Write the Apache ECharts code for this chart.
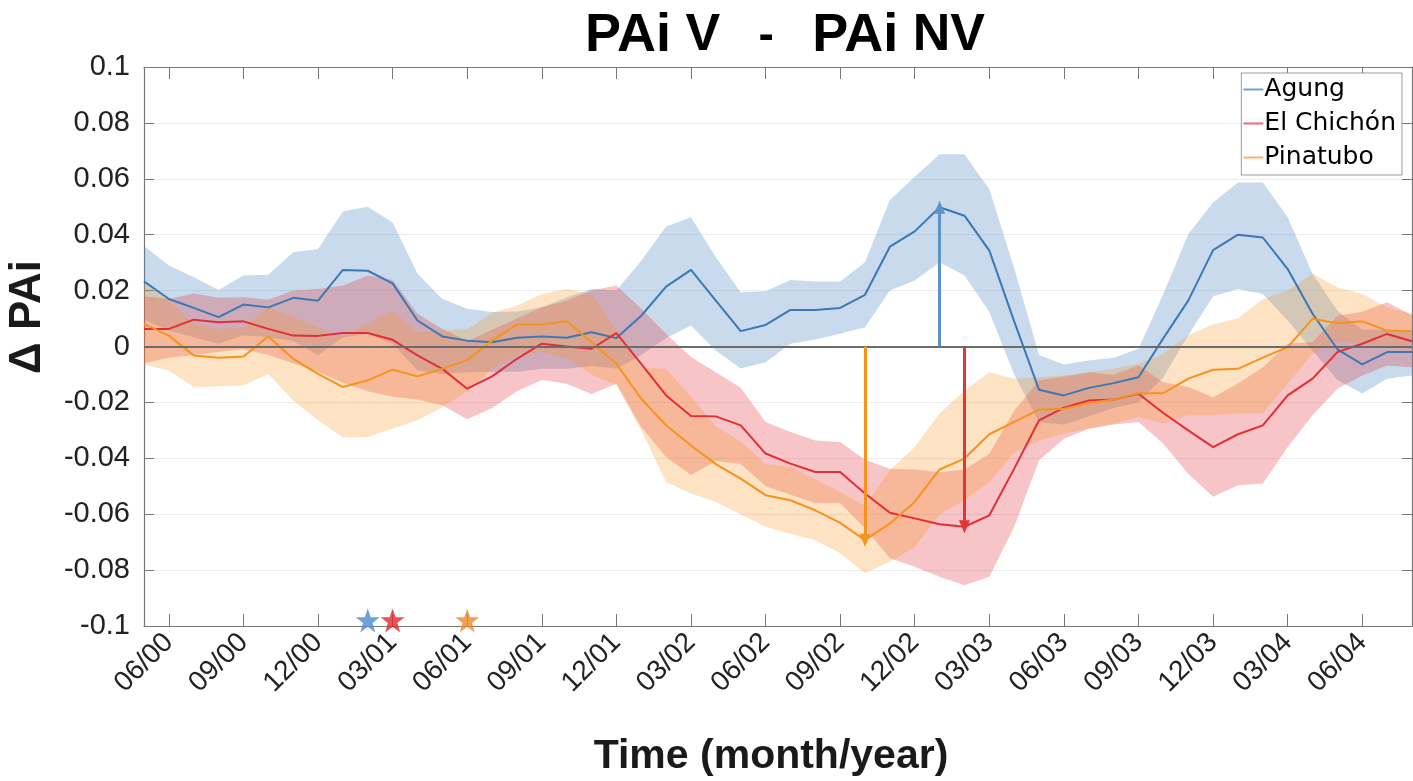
<!DOCTYPE html>
<html><head><meta charset="utf-8">
<script src="https://cdn.jsdelivr.net/npm/echarts@6/dist/echarts.min.js"></script>
<style>html,body{margin:0;padding:0;background:#fff}#c{width:1413px;height:781px}</style>
</head><body><div id="c"></div>
<script>
// Months (May 2000 .. Aug 2004), label format MM/YY
const months = ['05/00','06/00','07/00','08/00','09/00','10/00','11/00','12/00',
 '01/01','02/01','03/01','04/01','05/01','06/01','07/01','08/01','09/01','10/01','11/01','12/01',
 '01/02','02/02','03/02','04/02','05/02','06/02','07/02','08/02','09/02','10/02','11/02','12/02',
 '01/03','02/03','03/03','04/03','05/03','06/03','07/03','08/03','09/03','10/03','11/03','12/03',
 '01/04','02/04','03/04','04/04','05/04','06/04','07/04','08/04'];

const agungMean = [0.0233,0.017,0.0138,0.0105,0.015,0.014,0.0174,0.0164,0.0274,0.0271,0.0226,0.0093,0.0036,0.0021,0.0015,0.0031,0.0036,0.0031,0.0051,0.003,
 0.011,0.0214,0.0274,0.0164,0.0055,0.0077,0.0131,0.0131,0.0138,0.0185,0.0357,0.0412,0.0498,0.0468,0.0343,0.009,-0.0155,-0.0175,-0.0148,-0.0131,
 -0.011,0.003,0.0164,0.0345,0.040,0.039,0.0277,0.0117,-0.001,-0.0064,-0.002,-0.002];
const agungUpper = [0.036,0.029,0.0248,0.0202,0.0254,0.0257,0.0337,0.0349,0.0483,0.050,0.0444,0.026,0.017,0.0135,0.0123,0.0125,0.014,0.0175,0.0206,0.020,
 0.0307,0.0429,0.0462,0.0319,0.0194,0.0198,0.0238,0.0233,0.0233,0.0301,0.0524,0.0607,0.0688,0.0688,0.0563,0.028,-0.003,-0.0064,-0.005,-0.004,
 -0.0008,0.0188,0.0402,0.0515,0.0587,0.0587,0.0462,0.026,0.0128,0.006,0.006,0.005];
const agungLower = [0.0096,0.0057,0.0033,0.001,0.004,0.0033,0.002,-0.0032,0.0033,0.0045,0.001,-0.0086,-0.0098,-0.0092,-0.009,-0.009,-0.008,-0.008,-0.007,-0.008,
 -0.003,0.003,0.0075,-0.0014,-0.0079,-0.0056,0.001,0.0025,0.0046,0.0069,0.020,0.0236,0.0301,0.0254,0.0123,-0.01,-0.027,-0.028,-0.025,-0.022,
 -0.02,-0.011,0.004,0.018,0.0206,0.0188,0.0093,-0.0014,-0.012,-0.0168,-0.0115,-0.0104];

const chichonMean = [0.0063,0.0063,0.0096,0.0087,0.009,0.0063,0.0039,0.0038,0.0048,0.0048,0.0024,-0.0032,-0.008,-0.0151,-0.0107,-0.0044,0.001,0.0,-0.0008,0.0048,
 -0.0062,-0.0175,-0.0249,-0.025,-0.0282,-0.0383,-0.0419,-0.0449,-0.0449,-0.0526,-0.0595,-0.0615,-0.0636,-0.0645,-0.0604,-0.0437,-0.0264,-0.0219,-0.0193,-0.019,
 -0.0169,-0.0238,-0.030,-0.036,-0.0314,-0.0282,-0.0175,-0.0115,-0.002,0.001,0.0045,0.0019];
const chichonUpper = [0.018,0.017,0.019,0.0174,0.0176,0.0167,0.020,0.0206,0.0218,0.0254,0.0238,0.0117,0.0063,0.002,0.006,0.010,0.014,0.0164,0.020,0.0218,
 0.0135,0.0045,-0.0038,-0.0092,-0.0148,-0.027,-0.0306,-0.0336,-0.0342,-0.0405,-0.0437,-0.044,-0.045,-0.044,-0.0384,-0.0229,-0.0121,-0.0108,-0.0092,-0.0101,
 -0.0068,-0.0128,-0.0145,-0.0182,-0.0132,-0.0074,0.001,0.0016,0.011,0.0124,0.0158,0.0112];
const chichonLower = [-0.006,-0.004,-0.003,-0.002,-0.001,-0.003,-0.006,-0.009,-0.013,-0.016,-0.018,-0.019,-0.021,-0.026,-0.022,-0.016,-0.012,-0.0133,-0.017,-0.0133,
 -0.0288,-0.0395,-0.046,-0.041,-0.042,-0.050,-0.053,-0.056,-0.056,-0.065,-0.0758,-0.0788,-0.0824,-0.0854,-0.0824,-0.0645,-0.0407,-0.033,-0.0294,-0.0279,
 -0.027,-0.0348,-0.0455,-0.0538,-0.0496,-0.049,-0.036,-0.0246,-0.0151,-0.0104,-0.0068,-0.0074];

const pinatuboMean = [0.0081,0.0039,-0.0032,-0.004,-0.0036,0.0036,-0.0044,-0.0098,-0.0145,-0.0121,-0.0083,-0.0107,-0.008,-0.0048,0.0021,0.0079,0.0079,0.009,0.0015,-0.0062,
 -0.0187,-0.0282,-0.0354,-0.0421,-0.0473,-0.0532,-0.055,-0.0586,-0.0631,-0.0693,-0.0633,-0.0556,-0.044,-0.0401,-0.0314,-0.027,-0.0226,-0.0223,-0.0202,-0.019,
 -0.0167,-0.0167,-0.0115,-0.0083,-0.008,-0.004,-0.0002,0.0099,0.0083,0.009,0.0057,0.0055];
const pinatuboUpper = [0.0226,0.0164,0.0081,0.0063,0.0067,0.014,0.0105,0.0068,0.0036,0.0082,0.0128,0.005,0.0057,0.0062,0.012,0.0146,0.0188,0.0206,0.0188,0.006,
 -0.0077,-0.008,-0.018,-0.0286,-0.034,-0.042,-0.043,-0.0476,-0.052,-0.057,-0.0443,-0.036,-0.024,-0.0157,-0.0092,-0.0115,-0.011,-0.0104,-0.0092,-0.008,
 -0.0062,-0.0026,0.004,0.008,0.010,0.017,0.020,0.026,0.0212,0.0188,0.014,0.0117];
const pinatuboLower = [-0.0064,-0.0086,-0.0145,-0.0143,-0.0139,-0.0098,-0.0193,-0.0264,-0.0326,-0.0324,-0.0294,-0.0264,-0.0217,-0.016,-0.008,-0.003,-0.002,-0.004,-0.010,-0.0139,
 -0.030,-0.0485,-0.0526,-0.0556,-0.060,-0.0645,-0.067,-0.0693,-0.074,-0.081,-0.077,-0.0717,-0.060,-0.055,-0.0485,-0.038,-0.0336,-0.0312,-0.0294,-0.0276,
 -0.0252,-0.0276,-0.0246,-0.0246,-0.024,-0.024,-0.0133,-0.0026,0.0021,0.001,-0.0002,-0.0008];

const volcanoes = ['Agung','El Chichón','Pinatubo'];
const eruptionMonths = ['02/01','03/01','06/01'];   // stars on the time axis
const peakMonths = ['01/03','02/03','10/02'];       // arrows: Agung, El Chichón, Pinatubo
const yTicks = [-0.1,-0.08,-0.06,-0.04,-0.02,0,0.02,0.04,0.06,0.08,0.1];

const lineColors = ['#3b78b4','#e22f36','#f7931d'];
const bandColors = ['rgba(74,134,192,0.30)','rgba(228,45,55,0.28)','rgba(248,150,40,0.28)'];
const legendColors = ['#6fa3d6','#ee6a72','#f9b46a'];
const starColors = ['#4b8bcb','#e3262c','#f0862a'];
const arrowColors = ['#5b93c9','#e3343a','#f7931d'];

const means = [agungMean, chichonMean, pinatuboMean];
const uppers = [agungUpper, chichonUpper, pinatuboUpper];
const lowers = [agungLower, chichonLower, pinatuboLower];

const FONT = 'Liberation Sans, Arial, Helvetica, sans-serif';
const tickShow = (i) => (i - 1) % 3 === 0;

const series = [];
volcanoes.forEach((name, k) => {
  const low = lowers[k];
  const diff = uppers[k].map((u, i) => +(u - low[i]).toFixed(5));
  series.push({
    name: name + ' band low', type: 'line', stack: 'band' + k, stackStrategy: 'all',
    data: low, symbol: 'none', lineStyle: { opacity: 0 }, silent: true, z: 2
  });
  series.push({
    name: name + ' band', type: 'line', stack: 'band' + k, stackStrategy: 'all',
    data: diff, symbol: 'none', lineStyle: { opacity: 0 }, silent: true, z: 2,
    areaStyle: { color: bandColors[k], opacity: 1 }
  });
  series.push({
    name: name, type: 'line', data: means[k], symbol: 'none', z: 2,
    lineStyle: { color: lineColors[k], width: 2 }, itemStyle: { color: legendColors[k] }
  });
});

series.push({
  name: 'eruptions', type: 'scatter', clip: false, z: 6,
  symbol: 'path://M12,0 L14.9,8.3 L23.6,8.3 L16.6,13.6 L19.2,22.4 L12,17.2 L4.8,22.4 L7.4,13.6 L0.4,8.3 L9.1,8.3 Z',
  symbolSize: 24,
  data: eruptionMonths.map((m, k) => ({ value: [m, -0.098], itemStyle: { color: starColors[k] } }))
});

const arrowData = peakMonths.map((m, k) => {
  const idx = months.indexOf(m);
  return [
    { coord: [m, 0], symbol: 'none', lineStyle: { color: arrowColors[k], width: 3, type: 'solid' } },
    { coord: [m, means[k][idx]], symbol: 'triangle', symbolSize: [11, 13] }
  ];
});

series.push({
  name: 'overlay', type: 'line', data: months.map(() => null), z: 5, silent: true,
  markLine: {
    silent: true, animation: false, label: { show: false },
    symbol: ['none', 'none'],
    data: [
      [{ coord: [months[0], 0], lineStyle: { color: '#6b6b6b', width: 1.8, type: 'solid' } },
       { coord: [months[months.length - 1], 0] }]
    ].concat(arrowData)
  }
});

const chart = echarts.init(document.getElementById('c'), null, { renderer: 'canvas' });
chart.setOption({
  animation: false,
  backgroundColor: '#fff',
  title: {
    left: 780, top: 4, textAlign: 'center',
    text: '{a|PAi}{b| V}{c|   -   }{a|PAi}{b| NV}',
    textStyle: {
      rich: {
        a: { fontFamily: FONT, fontWeight: 'bold', fontSize: 54, color: '#000' },
        b: { fontFamily: FONT, fontWeight: 'bold', fontSize: 52, color: '#000' },
        c: { fontFamily: FONT, fontWeight: 'bold', fontSize: 46, color: '#000' }
      }
    }
  },
  legend: {
    data: volcanoes.map((n, k) => ({ name: n, itemStyle: { color: legendColors[k] } })),
    orient: 'vertical', right: 11, top: 73, icon: 'rect', itemWidth: 20, itemHeight: 2,
    itemGap: 9, padding: [4, 6, 5, 2], borderColor: '#9a9a9a', borderWidth: 1, borderRadius: 0,
    backgroundColor: '#fff',
    textStyle: { fontFamily: 'DejaVu Sans', fontSize: 25, color: '#000', padding: [0, 0, 0, -4] }
  },
  grid: { left: 144, right: 1, top: 67, bottom: 155 },
  xAxis: [{
    type: 'category', data: months, boundaryGap: false, position: 'bottom',
    axisLine: { show: true, onZero: false, lineStyle: { color: '#777', width: 1.2 } },
    axisTick: { show: true, inside: true, length: 12, interval: tickShow, lineStyle: { color: '#777' } },
    axisLabel: { interval: tickShow, rotate: 45, margin: 12, fontFamily: FONT, fontSize: 28, color: '#222' },
    splitLine: { show: false }
  }, {
    type: 'category', data: months, boundaryGap: false, position: 'top',
    axisLine: { show: true, onZero: false, lineStyle: { color: '#777', width: 1.2 } },
    axisTick: { show: true, inside: true, length: 12, interval: tickShow, lineStyle: { color: '#777' } },
    axisLabel: { show: false }, splitLine: { show: false }
  }],
  yAxis: [{
    type: 'value', min: yTicks[0], max: yTicks[yTicks.length - 1], interval: 0.02, position: 'left',
    axisLine: { show: true, onZero: false, lineStyle: { color: '#777', width: 1.2 } },
    axisTick: { show: true, inside: true, length: 10, lineStyle: { color: '#777' } },
    axisLabel: {
      margin: 14, fontFamily: FONT, fontSize: 29, color: '#222',
      formatter: (v) => { const r = Number(v.toFixed(2)); return r === 0 ? '0' : String(r); }
    },
    splitLine: { show: true, lineStyle: { color: '#ececec', width: 1.2 } }
  }, {
    type: 'value', min: yTicks[0], max: yTicks[yTicks.length - 1], interval: 0.02, position: 'right',
    axisLine: { show: true, onZero: false, lineStyle: { color: '#777', width: 1.2 } },
    axisTick: { show: true, inside: true, length: 10, lineStyle: { color: '#777' } },
    axisLabel: { show: false }, splitLine: { show: false }
  }],
  graphic: [
    { type: 'text', x: 28, y: 317, rotation: Math.PI / 2, z: 10,
      style: { text: 'Δ PAi', fontFamily: FONT, fontWeight: 'bold', fontSize: 44, fill: '#1a1a1a',
               textAlign: 'center', textVerticalAlign: 'middle' } },
    { type: 'text', x: 771, y: 757, z: 10,
      style: { text: 'Time (month/year)', fontFamily: FONT, fontWeight: 'bold', fontSize: 41, fill: '#1a1a1a',
               textAlign: 'center', textVerticalAlign: 'middle' } }
  ],
  series: series
});
</script>
</body></html>
